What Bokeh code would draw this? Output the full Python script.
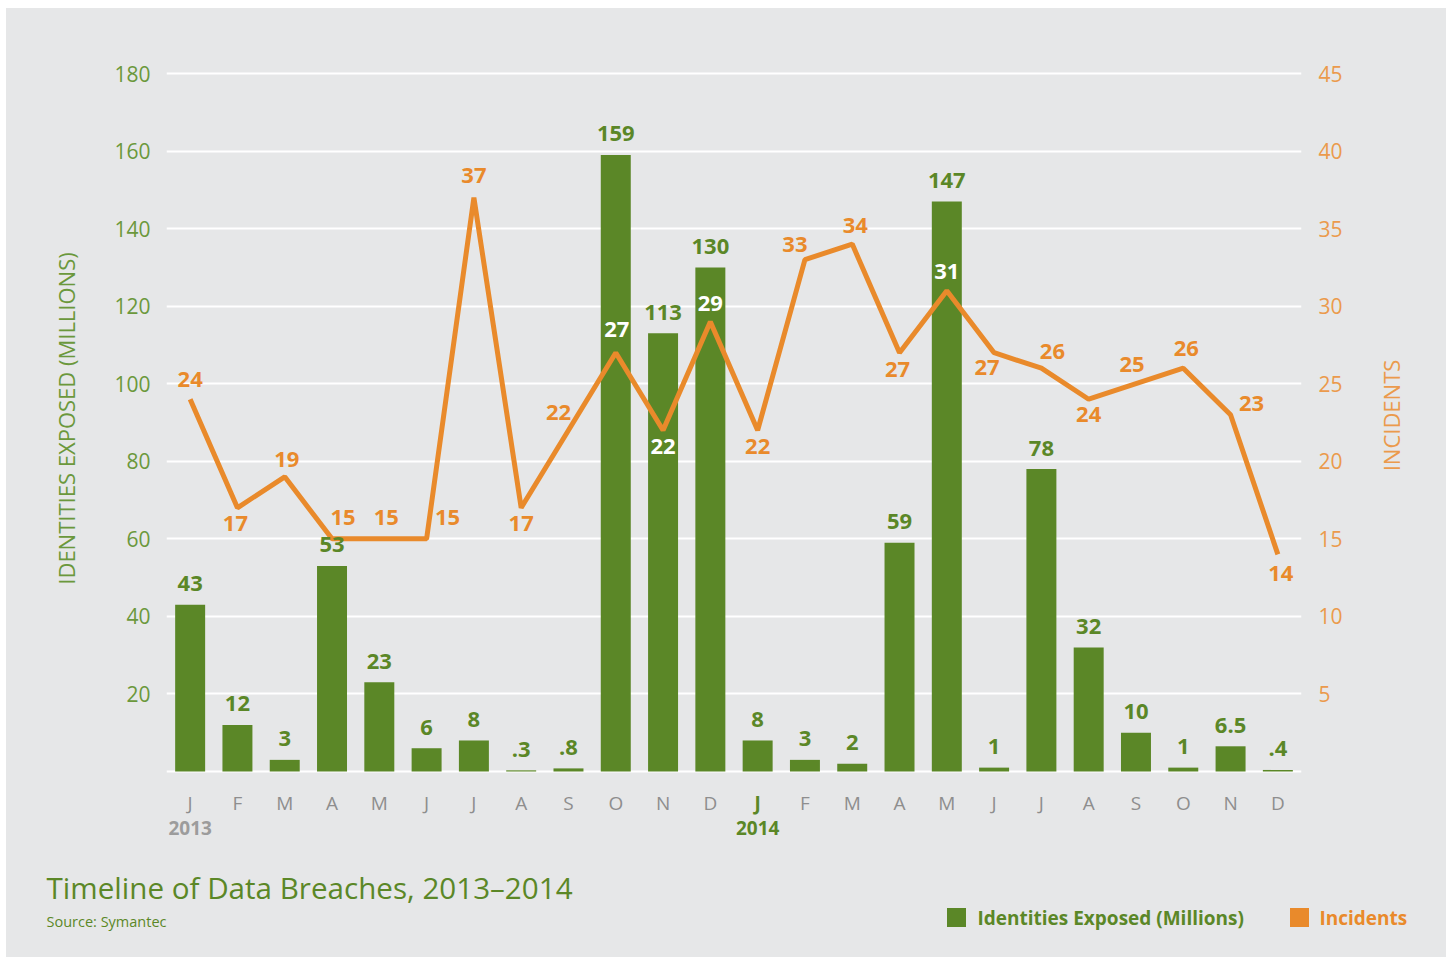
from math import pi
from bokeh.plotting import figure
from bokeh.layouts import column, row
from bokeh.models import Range1d, LinearAxis, FixedTicker, ColumnDataSource, Spacer
from bokeh.embed import file_html
from bokeh.resources import INLINE
from bokeh.core.properties import value

# ---------------- data ----------------
months = ["J", "F", "M", "A", "M", "J", "J", "A", "S", "O", "N", "D",
          "J", "F", "M", "A", "M", "J", "J", "A", "S", "O", "N", "D"]
years = ["2013", "2014"]
year_start = [0, 12]
identities = [43, 12, 3, 53, 23, 6, 8, 0.3, 0.8, 159, 113, 130,
              8, 3, 2, 59, 147, 1, 78, 32, 10, 1, 6.5, 0.4]
incidents = [24, 17, 19, 15, 15, 15, 37, 17, 22, 27, 22, 29,
             22, 33, 34, 27, 31, 27, 26, 24, 25, 26, 23, 14]
left_ticks = [20, 40, 60, 80, 100, 120, 140, 160, 180]
right_ticks = [5, 10, 15, 20, 25, 30, 35, 40, 45]
grid_ticks = [0] + left_ticks
title_text = "Timeline of Data Breaches, 2013\u20132014"
source_text = "Source: Symantec"
left_title = "IDENTITIES EXPOSED (MILLIONS)"
right_title = "INCIDENTS"
series_names = ["Identities Exposed (Millions)", "Incidents"]

# ---------------- styles ----------------
BG = "#e6e7e8"
GREEN = "#5b8727"
GREEN_AX = "#6b983c"
ORANGE = "#e98a2b"
ORANGE_AX = "#eb9a4c"
GRAY = "#8e8e8e"
GRAY_YEAR = "#9c9c9c"
FONT = "Open Sans"

inc_dx = [0, -2, 2, 11, 7, 21, 0, 0, -10, 1, 0, 0,
          0, -10, 3, -2, 0, -7, 11, 0, -4, 3, 21, 3]
inc_dy = [-20, 16, -17, -21, -21, -21, -22, 16, -18, -23, 16, -18,
          16, -15, -19, 17, -19, 15, -17, 15, -19, -20, -11, 19]
white_idx = {9, 10, 11, 16}

# page geometry (pixels)
PX0, PY0 = 6, 8             # panel top-left on page
PX1 = 1446                  # panel right
MAIN_BOTTOM = 776           # bottom of main figure on page
FOOT_BOTTOM = 957
STRIP_LEFT = 1360           # right strip with axis title
FL, FR, FT, Y0 = 166, 1301, 60, 771   # frame left/right/top, y=0 line
PXX = (FR - FL) / 24.0
PXY = (Y0 - 73) / 180.0


def xd(px):
    return -0.5 + (px - FL) / PXX


def yv(py):
    return (Y0 - py) / PXY


def fmt(v):
    s = "%g" % v
    return s[1:] if s.startswith("0.") else s


xs = list(range(len(months)))
src = ColumnDataSource(dict(
    x=xs, ident=identities, inc=incidents,
    ident_lbl=[fmt(v) for v in identities],
    inc_lbl=[fmt(v) for v in incidents],
    inc_col=["#ffffff" if i in white_idx else ORANGE for i in xs],
    dx=inc_dx, dy=inc_dy,
))

MW = STRIP_LEFT - PX0
MH = MAIN_BOTTOM - PY0
yr = Range1d(yv(MAIN_BOTTOM), yv(FT))
p = figure(width=MW, height=MH, output_backend="svg", toolbar_location=None,
           x_axis_location=None,
           x_range=Range1d(-0.5, 23.5), y_range=yr,
           min_border_left=FL - PX0, min_border_right=MW - (FR - PX0),
           min_border_top=FT - PY0, min_border_bottom=0)
p.extra_y_ranges = {"inc": Range1d(yv(MAIN_BOTTOM) / 4.0, yv(FT) / 4.0)}
p.background_fill_color = BG
p.border_fill_color = BG
p.outline_line_color = None
p.xgrid.grid_line_color = None
p.ygrid.ticker = FixedTicker(ticks=grid_ticks)
p.ygrid.grid_line_color = "white"
p.ygrid.grid_line_width = 2

ya = p.yaxis[0]
ya.ticker = FixedTicker(ticks=left_ticks)
ya.axis_line_color = None
ya.major_tick_line_color = None
ya.minor_tick_line_color = None
ya.major_tick_in = 0
ya.major_tick_out = 0
ya.major_label_standoff = 16
ya.major_label_text_color = GREEN_AX
ya.major_label_text_font = FONT
ya.major_label_text_font_size = "21px"
ya.axis_label = left_title
ya.axis_label_standoff = 30
ya.axis_label_text_font = FONT
ya.axis_label_text_font_style = "normal"
ya.axis_label_text_font_size = "22px"
ya.axis_label_text_color = GREEN_AX

ra = LinearAxis(y_range_name="inc", ticker=FixedTicker(ticks=right_ticks))
ra.axis_line_color = None
ra.major_tick_line_color = None
ra.minor_tick_line_color = None
ra.major_tick_in = 0
ra.major_tick_out = 0
ra.major_label_standoff = 17
ra.major_label_text_color = ORANGE_AX
ra.major_label_text_font = FONT
ra.major_label_text_font_size = "21px"
p.add_layout(ra, "right")

p.vbar(x="x", top="ident", width=0.634, source=src,
       fill_color=GREEN, line_color=None)
p.line(x="x", y="inc", source=src, y_range_name="inc",
       line_color=ORANGE, line_width=5)
p.text(x="x", y="ident", text="ident_lbl", source=src, y_offset=-21,
       text_align="center", text_baseline="middle",
       text_font=value(FONT), text_font_style="bold",
       text_font_size="22px", text_color=GREEN)
p.text(x="x", y="inc", text="inc_lbl", source=src, y_range_name="inc",
       x_offset="dx", y_offset="dy",
       text_align="center", text_baseline="middle",
       text_font=value(FONT), text_font_style="bold",
       text_font_size="22px", text_color="inc_col")

# ---------- right strip with the incidents axis title ----------
SW = PX1 - STRIP_LEFT
r = figure(width=SW, height=MH, output_backend="svg", toolbar_location=None,
           x_axis_location=None, y_axis_location=None,
           x_range=Range1d(0, SW), y_range=yr,
           min_border_left=0, min_border_right=0,
           min_border_top=FT - PY0, min_border_bottom=0)
r.background_fill_color = BG
r.border_fill_color = BG
r.outline_line_color = None
r.grid.visible = False
r.text(x=[1390 - STRIP_LEFT], y=[yv(415)], text=[right_title],
       angle=pi / 2, text_align="center", text_baseline="middle",
       text_font=value(FONT), text_font_size="22px", text_color=ORANGE_AX)

# ---------- footer: months, years, title, legend ----------
FH = FOOT_BOTTOM - MAIN_BOTTOM
FW = PX1 - PX0
f = figure(width=FW, height=FH, output_backend="svg", toolbar_location=None,
           x_axis_location=None, y_axis_location=None,
           x_range=Range1d(xd(PX0), xd(PX1)), y_range=Range1d(0, FH), min_border=0)
f.background_fill_color = BG
f.border_fill_color = BG
f.outline_line_color = None
f.grid.visible = False


def fy(py):
    return FOOT_BOTTOM - py


mcol = [GREEN if i == 12 else GRAY for i in xs]
mstyle = ["bold" if i == 12 else "normal" for i in xs]
f.text(x=xs, y=[fy(802)] * len(xs), text=months, text_color=mcol,
       text_font_style=mstyle, text_align="center", text_baseline="middle",
       text_font=value(FONT), text_font_size="19px")
f.text(x=year_start, y=[fy(827)] * 2, text=years, text_color=[GRAY_YEAR, GREEN],
       text_font_style="bold", text_align="center", text_baseline="middle",
       text_font=value(FONT), text_font_size="19px")
f.text(x=[xd(46)], y=[fy(887)], text=[title_text], text_color=GREEN,
       text_align="left", text_baseline="middle",
       text_font=value(FONT), text_font_size="29.6px")
f.text(x=[xd(46)], y=[fy(921)], text=[source_text], text_color=GREEN,
       text_align="left", text_baseline="middle",
       text_font=value(FONT), text_font_size="14.5px")
f.rect(x=[xd(956), xd(1299)], y=[fy(917)] * 2, width=19, height=19,
       width_units="screen", height_units="screen",
       fill_color=[GREEN, ORANGE], line_color=None)
f.text(x=[xd(977), xd(1319)], y=[fy(917)] * 2, text=series_names,
       text_color=[GREEN, ORANGE], text_font_style="bold",
       text_align="left", text_baseline="middle",
       text_font=value(FONT), text_font_size="19px")

inner = column(row(p, r), f, styles={"background-color": BG})
layout = column(Spacer(height=PY0), row(Spacer(width=PX0), inner))
open("out.html", "w").write(file_html(layout, INLINE))
